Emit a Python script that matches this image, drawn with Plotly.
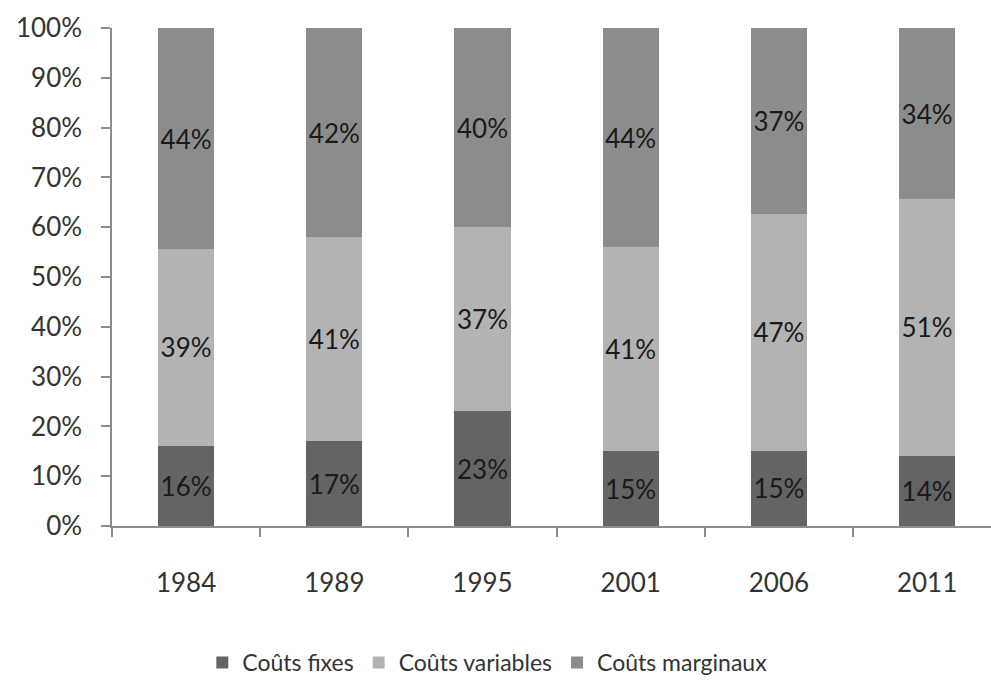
import plotly.graph_objects as go

years = ["1984", "1989", "1995", "2001", "2006", "2011"]
couts_fixes = [16, 17, 23, 15, 15, 14]
couts_variables = [39, 41, 37, 41, 47, 51]
couts_marginaux = [44, 42, 40, 44, 37, 34]

series = [
    ("Coûts fixes", couts_fixes, "#646464"),
    ("Coûts variables", couts_variables, "#b3b3b3"),
    ("Coûts marginaux", couts_marginaux, "#8c8c8c"),
]

FONT = "Lato"
fig = go.Figure()
for name, vals, color in series:
    fig.add_trace(go.Bar(
        name=name,
        x=years,
        y=vals,
        marker=dict(color=color, line=dict(width=0)),
        text=[f"{v}%" for v in vals],
        textposition="inside",
        insidetextanchor="middle",
        textangle=0,
        constraintext="none",
        textfont=dict(family=FONT, size=26, color="#1a1a1a"),
        hoverinfo="skip",
    ))

cat_w = 148.2
left = 112
plot_w = 991 - left

fig.update_layout(
    barmode="stack",
    barnorm="percent",
    bargap=0.62,
    width=991,
    height=684,
    margin=dict(l=left, r=0, t=28, b=154),
    paper_bgcolor="white",
    plot_bgcolor="white",
    font=dict(family=FONT, size=26, color="#333333"),
    showlegend=True,
    legend=dict(
        orientation="h",
        x=0.427, xanchor="center",
        y=-0.275, yanchor="middle",
        font=dict(family=FONT, size=23, color="#333333"),
        traceorder="normal",
        itemwidth=30,
    ),
    xaxis=dict(
        type="category",
        range=[-0.5, -0.5 + plot_w / cat_w],
        showline=True, linecolor="#8c8c8c", linewidth=1.5,
        ticks="outside", ticklen=9, tickcolor="#8c8c8c", tickwidth=1.5,
        tickson="boundaries",
        ticklabelstandoff=33,
        showgrid=False, zeroline=False,
        tickfont=dict(family=FONT, size=26, color="#333333"),
    ),
    yaxis=dict(
        range=[0, 100],
        tickvals=[0, 10, 20, 30, 40, 50, 60, 70, 80, 90, 100],
        ticktext=[f"{v}%" for v in range(0, 101, 10)],
        showline=True, linecolor="#8c8c8c", linewidth=1.5,
        ticks="outside", ticklen=9, tickcolor="#8c8c8c", tickwidth=1.5,
        ticklabelstandoff=14,
        showgrid=False, zeroline=False,
        tickfont=dict(family=FONT, size=26, color="#333333"),
    ),
)

fig.write_html("out.html")
